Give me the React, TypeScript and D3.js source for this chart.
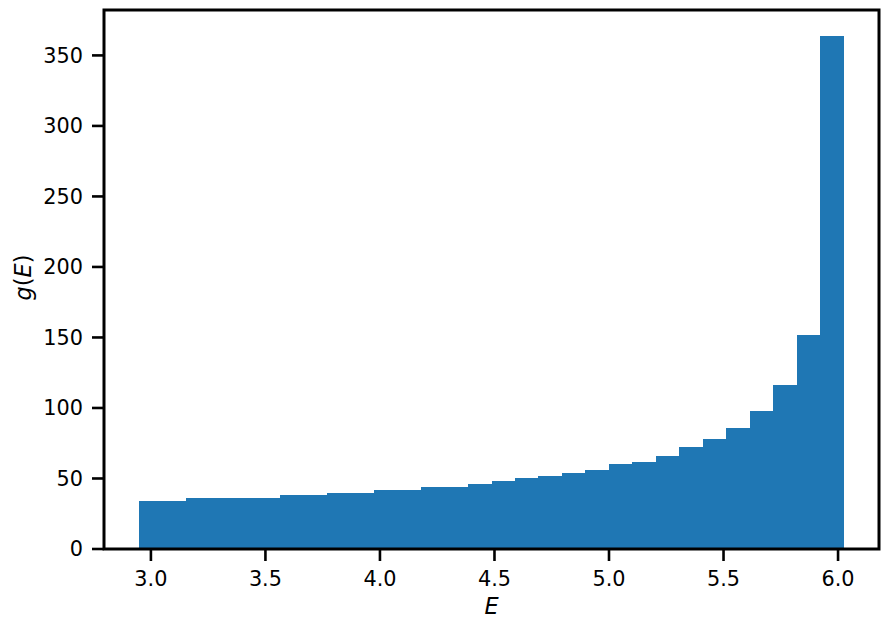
import React from 'react';
import * as d3 from 'd3';

// histogram of energies: 30 bins between binStart and binEnd
const binStart = 2.949;
const binEnd = 6.025;
const counts = [
  34, 34, 36, 36, 36, 36, 38, 38, 40, 40,
  42, 42, 44, 44, 46, 48, 50, 52, 54, 56,
  60, 62, 66, 72, 78, 86, 98, 116, 152, 364,
];
const xTicks = [3.0, 3.5, 4.0, 4.5, 5.0, 5.5, 6.0];
const yTicks = [0, 50, 100, 150, 200, 250, 300, 350];

const App = () => {
  const width = 888;
  const height = 629;
  const margin = { left: 104, right: 9, top: 10, bottom: 80 };
  const font = 'DejaVu Sans, sans-serif';
  const tickLen = 12;

  const binW = (binEnd - binStart) / counts.length;
  const pad = (binEnd - binStart) * 0.05;
  const yMax = d3.max(counts) * 1.05;

  const xScale = d3.scaleLinear()
    .domain([binStart - pad, binEnd + pad])
    .range([margin.left, width - margin.right]);

  const yScale = d3.scaleLinear()
    .domain([0, yMax])
    .range([height - margin.bottom, margin.top]);

  const x0 = xScale.range()[0];
  const x1 = xScale.range()[1];
  const y0 = yScale.range()[0];
  const y1 = yScale.range()[1];

  return (
    <svg width={width} height={height} style={{ position: 'absolute', left: 0, top: 0 }}>
      <rect x={0} y={0} width={width} height={height} fill="white" />
      <g shapeRendering="crispEdges">
        {counts.map((c, i) => {
          const left = xScale(binStart + i * binW);
          const right = xScale(binStart + (i + 1) * binW);
          return (
            <rect
              key={i}
              x={left}
              y={yScale(c)}
              width={right - left + 0.6}
              height={yScale(0) - yScale(c)}
              fill="#1f77b4"
            />
          );
        })}
      </g>

      {/* spines */}
      <rect x={x0} y={y1} width={x1 - x0} height={y0 - y1} fill="none" stroke="black" strokeWidth={3} />

      {xTicks.map((t) => (
        <g key={'x' + t}>
          <line x1={xScale(t)} x2={xScale(t)} y1={y0} y2={y0 + tickLen} stroke="black" strokeWidth={2.6} />
          <text x={xScale(t)} y={y0 + 37} textAnchor="middle" fontFamily={font} fontSize={20.8} fill="black">
            {t.toFixed(1)}
          </text>
        </g>
      ))}
      {yTicks.map((t) => (
        <g key={'y' + t}>
          <line x1={x0 - tickLen} x2={x0} y1={yScale(t)} y2={yScale(t)} stroke="black" strokeWidth={2.6} />
          <text x={x0 - 21} y={yScale(t)} dy="0.36em" textAnchor="end" fontFamily={font} fontSize={20.8} fill="black">
            {t}
          </text>
        </g>
      ))}

      <text x={(x0 + x1) / 2} y={y0 + 65} textAnchor="middle" fontFamily={font} fontSize={22.4} fontStyle="italic" fill="black">
        E
      </text>
      <text
        transform={`translate(31, ${(y0 + y1) / 2 - 2}) rotate(-90)`}
        textAnchor="middle"
        fontFamily={font}
        fontSize={22.4}
        fill="black"
      >
        <tspan fontStyle="italic">g</tspan>(<tspan fontStyle="italic">E</tspan>)
      </text>
    </svg>
  );
};

export default App;
